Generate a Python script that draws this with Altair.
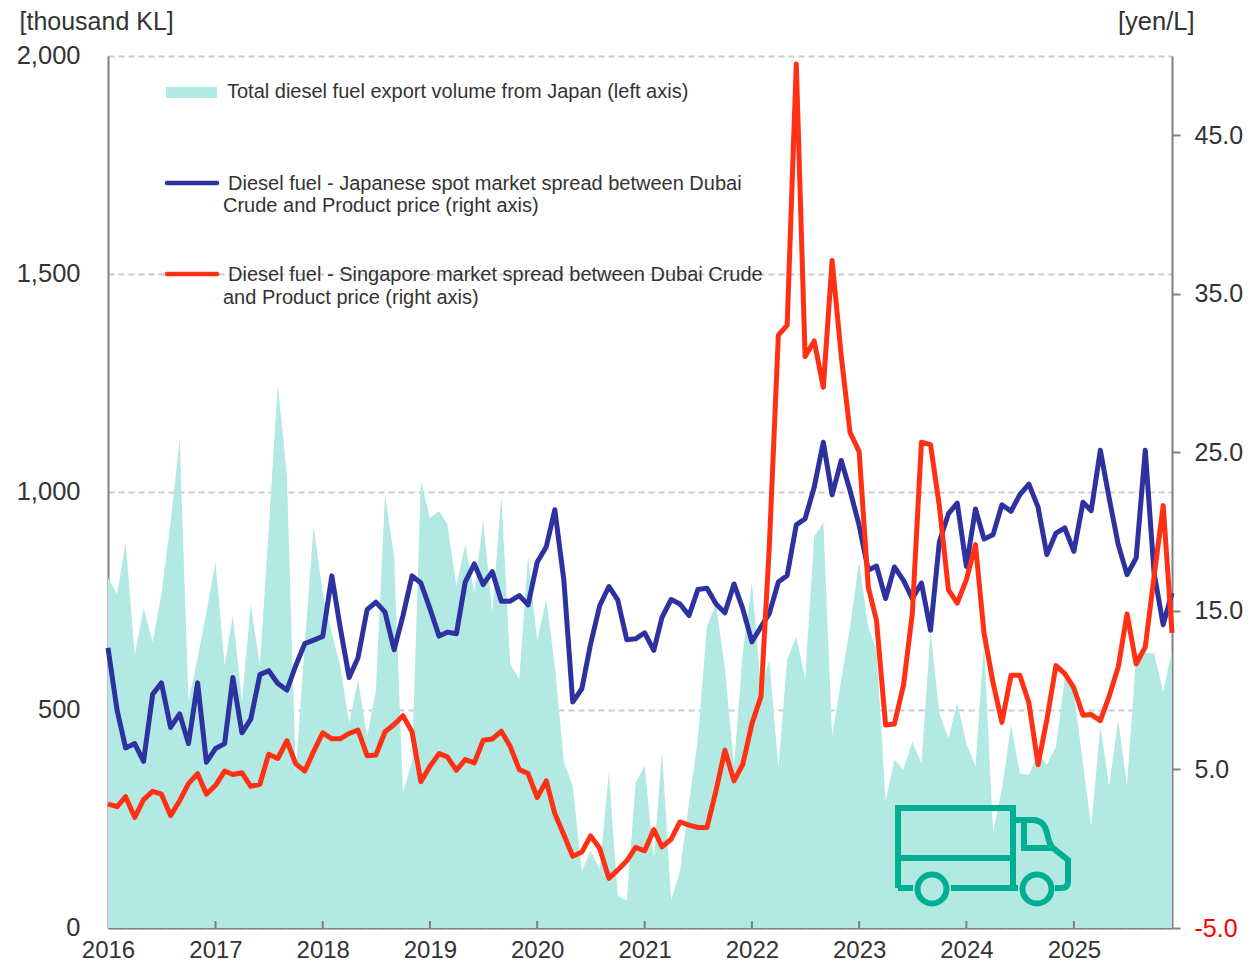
import altair as alt
import pandas as pd

volume = [803,766,885,627,734,656,766,930,1119,520,619,725,840,602,717,520,742,602,914,1246,1037,357,652,922,766,676,602,471,570,439,545,996,848,311,381,1025,
          941,956,926,784,880,769,937,723,991,605,571,853,658,754,601,380,326,131,177,135,357,74,63,334,372,158,406,63,131,288,433,693,743,594,372,632,794,550,615,
          367,615,668,573,898,930,439,569,691,840,691,638,290,386,363,428,378,680,493,435,516,424,370,653,222,317,466,355,351,401,374,416,573,539,378,233,462,325,477,325,630,630,630,542,638]
japan = [12.67,8.73,6.36,6.63,5.51,9.74,10.46,7.65,8.50,6.63,10.46,5.46,6.32,6.63,10.80,7.31,8.17,10.98,11.23,10.42,10.01,11.54,12.94,13.16,13.39,17.21,14.0,10.80,12.04,15.08,15.55,14.92,12.55,14.69,17.21,16.76,
         15.14,13.41,13.66,13.56,16.81,17.96,16.66,17.48,15.61,15.61,15.97,15.38,18.07,19.05,21.38,16.91,9.25,10.09,12.93,15.34,16.54,15.7,13.18,13.24,13.62,12.51,14.6,15.72,15.44,14.71,16.35,16.43,15.44,14.88,16.7,15.13,
         13.05,14.0,14.83,16.82,17.24,20.43,20.81,22.8,25.64,22.32,24.49,22.59,20.39,17.56,17.83,15.78,17.77,16.93,15.78,16.76,13.78,19.34,21.13,21.8,
         17.81,21.43,19.54,19.81,21.7,21.28,22.33,23.0,21.55,18.55,19.91,20.23,18.76,21.85,21.32,25.13,22.12,19.18,17.29,18.34,25.13,17.39,14.13,16.13]
singapore = [2.81,2.65,3.28,1.97,3.10,3.62,3.44,2.09,3.03,4.11,4.74,3.44,4.0,4.90,4.68,4.79,3.93,4.07,5.96,5.69,6.81,5.35,4.90,6.14,7.31,6.93,6.93,7.27,7.49,5.87,5.91,7.38,7.83,8.39,7.38,4.23,
             5.2,6.0,5.79,4.95,5.62,5.41,6.84,6.92,7.41,6.46,4.99,4.74,3.23,4.28,2.22,0.86,-0.47,-0.21,0.81,0.02,-1.87,-1.35,-0.76,0.08,-0.13,1.21,0.12,0.6,1.69,1.49,1.34,1.34,3.69,6.21,4.28,5.33,7.89,9.61,19.0,
             32.4,33.03,49.5,31.04,32.03,29.1,37.1,31.1,26.26,25.05,16.5,14.41,7.8,7.87,10.32,14.83,25.64,25.49,21.62,16.33,15.49,
             16.97,19.18,13.61,10.45,7.97,10.94,10.94,9.19,5.3,8.14,11.55,11.04,10.14,8.42,8.46,8.08,9.61,11.46,14.81,11.65,12.72,17.18,21.64,13.61]
months = [d.strftime("%Y-%m-%d") for d in pd.date_range("2016-01-01", periods=120, freq="MS")]
years = [f"{y}-01-01" for y in range(2017, 2026)]
left_ticks = [0, 500, 1000, 1500, 2000]
right_ticks = [-5, 5, 15, 25, 35, 45]
series_names = ["Japan", "Singapore"]
series_colors = ["#2E32A0", "#FF3014"]

FONT = "Liberation Sans"
TEXT = "#333333"
AXIS = "#808080"
W, H = 1064, 872

df_area = pd.DataFrame({"month": months, "volume": volume})
df_lines = pd.DataFrame({"month": months * 2,
                         "spread": japan + singapore,
                         "series": ["Japan"] * 120 + ["Singapore"] * 120})
df_years = pd.DataFrame({"year": years})

x_scale = alt.Scale(type="utc", domain=[alt.DateTime(year=2016, month=1, date=1, utc=True),
                                        alt.DateTime(year=2025, month=12, date=1, utc=True)])
x_axis = alt.Axis(format="%Y", tickCount="year", ticks=False, grid=False,
                  labelFont=FONT, labelFontSize=24, labelColor=TEXT, labelPadding=10,
                  labelFlush=False, labelBound=False, labelOverlap=False,
                  domainColor=AXIS, domainWidth=2)

area = alt.Chart(df_area).mark_area(color="#B2E9E3", opacity=1, interpolate="linear").encode(
    x=alt.X("month:T", scale=x_scale, title=None, axis=x_axis),
    y=alt.Y("volume:Q", scale=alt.Scale(domain=[0, 2000], nice=False),
            axis=alt.Axis(values=left_ticks, format=",d", title="[thousand KL]", titleAngle=0,
                          titleAlign="left", titleBaseline="middle", titleX=-89, titleY=-35,
                          titleFont=FONT, titleFontSize=25, titleFontWeight="normal", titleColor=TEXT,
                          labelFont=FONT, labelFontSize=25.5, labelColor=TEXT, labelPadding=28, labelOffset=-1,
                          ticks=False, domainColor=AXIS, domainWidth=2,
                          grid=True, gridColor="#CCCCCC", gridDash=[6, 4], gridWidth=2)),
)

lines = alt.Chart(df_lines).mark_line(strokeWidth=5, strokeJoin="round", interpolate="linear").encode(
    x=alt.X("month:T", scale=x_scale, title=None, axis=x_axis),
    y=alt.Y("spread:Q", scale=alt.Scale(domain=[-5, 50], nice=False),
            axis=alt.Axis(orient="right", values=right_ticks, title="[yen/L]", titleAngle=0,
                          labelExpr="(datum.value < 0 ? '-' : '') + format(abs(datum.value), '.1f')",
                          titleAlign="right", titleBaseline="middle", titleX=22, titleY=-35,
                          titleFont=FONT, titleFontSize=25.5, titleFontWeight="normal", titleColor=TEXT,
                          labelFont=FONT, labelFontSize=25, labelAlign="left", labelPadding=14,
                          labelColor=alt.expr("datum.value == -5 ? '#FF0000' : '#333333'"),
                          ticks=True, tickSize=8, tickColor=AXIS, tickWidth=2,
                          domainColor=AXIS, domainWidth=2, grid=False)),
    color=alt.Color("series:N", scale=alt.Scale(domain=series_names, range=series_colors), legend=None),
    detail="series:N",
)

year_ticks = alt.Chart(df_years).mark_rule(color=AXIS, strokeWidth=2).encode(
    x=alt.X("year:T", scale=x_scale, title=None, axis=x_axis),
    y=alt.value(H), y2=alt.value(H - 7),
)

def txt(label, x, y):
    return alt.Chart(pd.DataFrame({"t": [label]})).mark_text(
        align="left", baseline="middle", font=FONT, fontSize=20, color=TEXT
    ).encode(text="t:N", x=alt.value(x), y=alt.value(y))

labels = [
    txt("Total diesel fuel export volume from Japan (left axis)", 119, 36),
    txt("Diesel fuel - Japanese spot market spread between Dubai", 120, 128),
    txt("Crude and Product price (right axis)", 115, 150),
    txt("Diesel fuel - Singapore market spread between Dubai Crude", 120, 219),
    txt("and Product price (right axis)", 115, 242),
]

swatch_area = alt.Chart(pd.DataFrame({"k": [0]})).mark_rect(color="#B2E9E3").encode(
    x=alt.value(58), x2=alt.value(109), y=alt.value(31), y2=alt.value(42))

def swatch(color, y):
    return alt.Chart(pd.DataFrame({"k": [0]})).mark_rule(color=color, strokeWidth=4.5, strokeCap="round").encode(
        x=alt.value(59), x2=alt.value(109), y=alt.value(y))

TRUCK = ("M-0.85,0.38 L-0.85,-0.42 L0.30,-0.42 L0.30,0.38 "
         "M-0.85,0.38 L-0.70,0.38 "
         "M-0.85,0.08 L0.30,0.08 "
         "M-0.32,0.38 L0.35,0.38 "
         "M-0.655,0.39 A0.145,0.145 0 1 0 -0.365,0.39 A0.145,0.145 0 1 0 -0.655,0.39 "
         "M0.395,0.39 A0.145,0.145 0 1 0 0.685,0.39 A0.145,0.145 0 1 0 0.395,0.39 "
         "M0.30,-0.30 L0.50,-0.30 Q0.61,-0.30 0.64,-0.17 Q0.66,-0.06 0.70,-0.02 L0.85,0.10 L0.85,0.32 Q0.85,0.38 0.78,0.38 L0.72,0.38 "
         "M0.41,-0.30 L0.41,-0.02 L0.70,-0.02")
truck = alt.Chart(pd.DataFrame({"k": [0]})).mark_point(
    shape=TRUCK, filled=False, stroke="#00AF91", strokeWidth=6, size=40000, opacity=1
).encode(x=alt.value(875), y=alt.value(794))

chart = alt.layer(
    area, lines, year_ticks, swatch_area,
    swatch("#2E32A0", 127), swatch("#FF3014", 218),
    *labels, truck
).resolve_scale(y="independent").properties(
    width=W, height=H,
    autosize=alt.AutoSizeParams(type="none"),
    padding={"left": 100, "top": 48, "right": 74, "bottom": 33},
).configure_view(stroke=None)

chart.save("out.html", embed_options={"renderer": "svg", "actions": False})
